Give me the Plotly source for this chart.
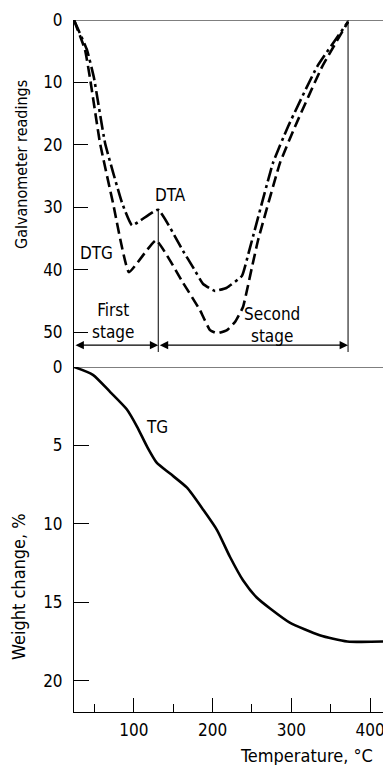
import plotly.graph_objects as go

# ---------------- data ----------------
dta_t = [24, 40.5, 49.4, 63.4, 85, 97.7, 130.7, 162.4, 175, 188, 203, 218, 237.3, 246, 276.7, 295.7, 332.6, 372]
dta_g = [0, 4.8, 9.3, 19.7, 29.3, 32.9, 30.4, 37.0, 39.6, 42.3, 43.4, 42.9, 41.0, 37.2, 22.9, 17.1, 7.5, 0.3]

dtg_t = [24, 38, 44.3, 57, 73.5, 93.8, 128.1, 162.4, 184, 196.7, 205.6, 218.3, 228.4, 238.6, 250, 257.7, 285.6, 304.6, 339, 372]
dtg_g = [0, 4.8, 9.3, 19.7, 29.3, 40.4, 35.3, 42.1, 46.5, 49.7, 50.2, 49.7, 48.4, 46.0, 39.6, 35.3, 22.9, 17.1, 7.5, 0.3]

tg_t = [24, 48, 70, 91, 104, 117, 129, 146, 167.5, 188, 205.6, 222, 238.6, 256, 273, 298, 336, 371, 424]
tg_w = [0, 0.5, 1.6, 2.7, 3.8, 5.1, 6.1, 6.8, 7.7, 9.1, 10.4, 12.1, 13.6, 14.7, 15.4, 16.3, 17.1, 17.5, 17.5]

x_major = [100, 200, 300, 400]
x_minor = [50, 150, 250, 350]
galv_ticks = [0, 10, 20, 30, 40, 50]
weight_ticks = [0, 5, 10, 15, 20]

stage_split = 131      # first/second stage boundary, deg C
stage_end = 372        # end of second stage, deg C
arrow_level = 52.1     # galvanometer value of the stage arrows

FONT = "DejaVu Sans Condensed, Liberation Sans Narrow, DejaVu Sans"
X_RANGE = [24, 424]

fig = go.Figure()

fig.add_trace(go.Scatter(x=dta_t, y=dta_g, mode="lines", yaxis="y2", xaxis="x",
                         line=dict(color="black", width=2.6, dash="14px,4px,3px,4px",
                                   shape="spline", smoothing=0.35),
                         showlegend=False, hoverinfo="skip"))
fig.add_trace(go.Scatter(x=dtg_t, y=dtg_g, mode="lines", yaxis="y2", xaxis="x",
                         line=dict(color="black", width=2.6, dash="11px,5px",
                                   shape="spline", smoothing=0.35),
                         showlegend=False, hoverinfo="skip"))
fig.add_trace(go.Scatter(x=tg_t, y=tg_w, mode="lines", yaxis="y", xaxis="x",
                         line=dict(color="black", width=2.6, shape="spline", smoothing=0.6),
                         showlegend=False, hoverinfo="skip"))

tickfont = dict(family=FONT, size=17, color="black")
axis_common = dict(showgrid=False, zeroline=False, showline=True, linecolor="black",
                   linewidth=1, ticks="inside", tickcolor="black", tickwidth=1,
                   automargin=False, tickfont=tickfont)

# the page body adds an 8px offset, so the figure is 8px smaller and margins shifted
fig.update_layout(
    width=383, height=757,
    margin=dict(l=66, r=2, t=12, b=53, autoexpand=False),
    paper_bgcolor="white", plot_bgcolor="white",
    xaxis=dict(range=X_RANGE, anchor="y", tickvals=x_major, ticktext=[str(v) for v in x_major],
               ticklen=14, ticklabelstandoff=3,
               minor=dict(tickvals=x_minor, ticks="inside", ticklen=8, tickcolor="black", tickwidth=1),
               **axis_common),
    yaxis=dict(domain=[0, 0.4986], range=[22, 0], anchor="x",
               tickvals=weight_ticks, ticklen=15, ticklabelstandoff=7, **axis_common),
    yaxis2=dict(domain=[0.4986, 1], range=[55.6, 0], anchor="x",
                tickvals=galv_ticks, ticklen=14, ticklabelstandoff=7, **axis_common),
)

# frame lines
fig.add_shape(type="line", xref="x", yref="y2", x0=X_RANGE[0], x1=X_RANGE[1], y0=0, y1=0,
              line=dict(color="black", width=1))
fig.add_shape(type="line", xref="x", yref="y", x0=X_RANGE[0], x1=X_RANGE[1], y0=0, y1=0,
              line=dict(color="black", width=1.2))
fig.add_shape(type="line", xref="x", yref="y", x0=X_RANGE[1], x1=X_RANGE[1], y0=7.8, y1=22,
              line=dict(color="black", width=1))

# stage boundaries
fig.add_shape(type="line", xref="x", yref="y2", x0=stage_split, x1=stage_split, y0=30.4, y1=53.2,
              line=dict(color="black", width=1))
fig.add_shape(type="line", xref="x", yref="y2", x0=stage_end, x1=stage_end, y0=0, y1=53.2,
              line=dict(color="black", width=1))

# stage arrows
for a, b in [(X_RANGE[0], stage_split), (stage_split, stage_end)]:
    fig.add_annotation(x=b, y=arrow_level, ax=a, ay=arrow_level, xref="x", yref="y2",
                       axref="x", ayref="y2", text="", showarrow=True,
                       arrowhead=2, arrowside="end+start", arrowsize=1.4, arrowwidth=1.2,
                       arrowcolor="black", standoff=0, startstandoff=0)

txt = dict(family=FONT, size=17, color="black")
def label(x, y, text, xref="x", yref="y2", angle=0, size=17):
    fig.add_annotation(x=x, y=y, xref=xref, yref=yref, text=text, showarrow=False,
                       font=dict(txt, size=size), align="center", xanchor="center",
                       yanchor="middle", textangle=angle)

label(146, 28, "DTA")
label(53, 37.3, "DTG")
label(129, 3.8, "TG", yref="y")
label(73, 48.3, "First<br>stage")
label(276, 48.8, "Second<br>stage")

# axis titles (positions in paper units derived from page pixel layout)
label((22 - 74) / 315, (712 - 165) / 692, "Galvanometer readings", "paper", "paper", -90, 16)
label((18 - 74) / 315, (712 - 587) / 692, "Weight change, %", "paper", "paper", -90, 18)
label((306 - 74) / 315, (712 - 755) / 692, "Temperature, °C", "paper", "paper", 0, 18)

fig.write_html("out.html")
